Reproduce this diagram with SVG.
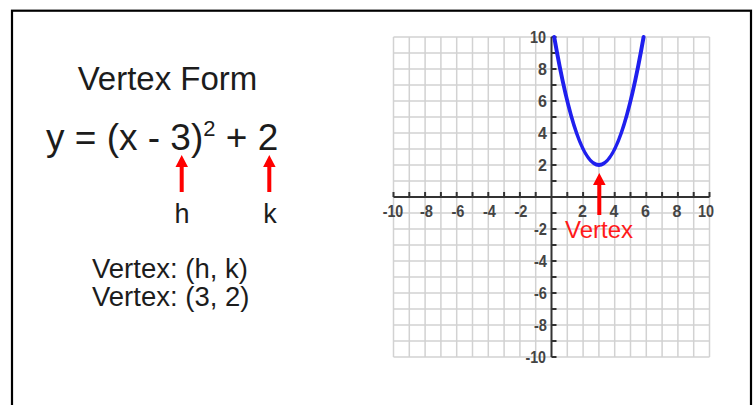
<svg xmlns="http://www.w3.org/2000/svg" width="756" height="405" viewBox="0 0 756 405">
<style>
.t{font-family:"Liberation Sans",Arial,sans-serif;fill:#1c1c1c}
.tick{font-family:"Liberation Sans",Arial,sans-serif;fill:#444;font-size:16px;font-weight:bold}
.red{fill:#ff0000}
.grid{stroke:#d2d2d2;stroke-width:1.5;fill:none}
.axis{stroke:#333;stroke-width:2;fill:none}
</style>
<rect x="0" y="0" width="756" height="405" fill="#fff"/>
<rect x="12" y="10.7" width="739" height="420" fill="none" stroke="#000" stroke-width="2.2"/>

<g id="title"><text class="t" x="167.5" y="90" font-size="33" text-anchor="middle">Vertex Form</text></g>
<g id="equation"><text class="t" x="46" y="150" font-size="37">y = (x - 3)<tspan font-size="22" dy="-14">2</tspan><tspan dy="14"> + 2</tspan></text></g>
<g id="label-h"><text class="t" x="182" y="223" font-size="27" text-anchor="middle">h</text></g>
<g id="label-k"><text class="t" x="270" y="223" font-size="27" text-anchor="middle">k</text></g>
<g id="vertex-text">
<text class="t" x="92" y="278" font-size="27.5">Vertex: (h, k)</text>
<text class="t" x="92" y="306" font-size="27.5">Vertex: (3, 2)</text>
</g>

<g id="graph">
<path class="grid" d="M393.5 37V357M409.3 37V357M425.1 37V357M440.9 37V357M456.7 37V357M472.5 37V357M488.3 37V357M504.1 37V357M519.9 37V357M535.7 37V357M567.3 37V357M583.1 37V357M598.9 37V357M614.7 37V357M630.5 37V357M646.3 37V357M662.1 37V357M677.9 37V357M693.7 37V357M709.5 37V357M393.5 37H709.5M393.5 53H709.5M393.5 69H709.5M393.5 85H709.5M393.5 101H709.5M393.5 117H709.5M393.5 133H709.5M393.5 149H709.5M393.5 165H709.5M393.5 181H709.5M393.5 213H709.5M393.5 229H709.5M393.5 245H709.5M393.5 261H709.5M393.5 277H709.5M393.5 293H709.5M393.5 309H709.5M393.5 325H709.5M393.5 341H709.5M393.5 357H709.5"/>
<path class="axis" d="M393.5 197H709.5M551.5 37V357"/>
<path class="axis" d="M393.5 197v-5M409.3 197v-5M425.1 197v-5M440.9 197v-5M456.7 197v-5M472.5 197v-5M488.3 197v-5M504.1 197v-5M519.9 197v-5M535.7 197v-5M567.3 197v-5M583.1 197v-5M598.9 197v-5M614.7 197v-5M630.5 197v-5M646.3 197v-5M662.1 197v-5M677.9 197v-5M693.7 197v-5M709.5 197v-5M551.5 37h5M551.5 53h5M551.5 69h5M551.5 85h5M551.5 101h5M551.5 117h5M551.5 133h5M551.5 149h5M551.5 165h5M551.5 181h5M551.5 213h5M551.5 229h5M551.5 245h5M551.5 261h5M551.5 277h5M551.5 293h5M551.5 309h5M551.5 325h5M551.5 341h5M551.5 357h5"/>
<g text-anchor="middle">
<text class="tick" x="393" y="216.5" textLength="20.5" lengthAdjust="spacingAndGlyphs">-10</text>
<text class="tick" x="426.5" y="216.5" textLength="13" lengthAdjust="spacingAndGlyphs">-8</text>
<text class="tick" x="458" y="216.5" textLength="13" lengthAdjust="spacingAndGlyphs">-6</text>
<text class="tick" x="489.5" y="216.5" textLength="13" lengthAdjust="spacingAndGlyphs">-4</text>
<text class="tick" x="521" y="216.5" textLength="13" lengthAdjust="spacingAndGlyphs">-2</text>
<text class="tick" x="582.5" y="216.5">2</text>
<text class="tick" x="614" y="216.5">4</text>
<text class="tick" x="645.5" y="216.5">6</text>
<text class="tick" x="677" y="216.5">8</text>
<text class="tick" x="706" y="216.5" textLength="16" lengthAdjust="spacingAndGlyphs">10</text>
</g>
<g text-anchor="end">
<text class="tick" x="546" y="42.5" textLength="16" lengthAdjust="spacingAndGlyphs">10</text>
<text class="tick" x="547" y="74.5">8</text>
<text class="tick" x="547" y="106.5">6</text>
<text class="tick" x="547" y="138.5">4</text>
<text class="tick" x="547" y="170.5">2</text>
<text class="tick" x="547" y="234.5" textLength="13" lengthAdjust="spacingAndGlyphs">-2</text>
<text class="tick" x="547" y="266.5" textLength="13" lengthAdjust="spacingAndGlyphs">-4</text>
<text class="tick" x="547" y="298.5" textLength="13" lengthAdjust="spacingAndGlyphs">-6</text>
<text class="tick" x="547" y="330.5" textLength="13" lengthAdjust="spacingAndGlyphs">-8</text>
<text class="tick" x="546" y="362.5" textLength="20.5" lengthAdjust="spacingAndGlyphs">-10</text>
</g>
<path d="M554.2 37Q598.9 293 643.6 37" fill="none" stroke="#1f1fee" stroke-width="4" stroke-linecap="round"/>
<text x="565" y="238" font-family="'Liberation Sans',Arial,sans-serif" font-size="24" fill="#ff1a1a">Vertex</text>
</g>

<g id="connectors">
<path class="red" d="M179.7 192V167H175.5L181.7 155L188 167H183.7V192Z"/>
<path class="red" d="M267.3 192V167H263.1L269.3 155L275.6 167H271.3V192Z"/>
<path class="red" d="M597.3 215V185H593L599.3 173L605.6 185H601.3V215Z"/>
</g>
</svg>
